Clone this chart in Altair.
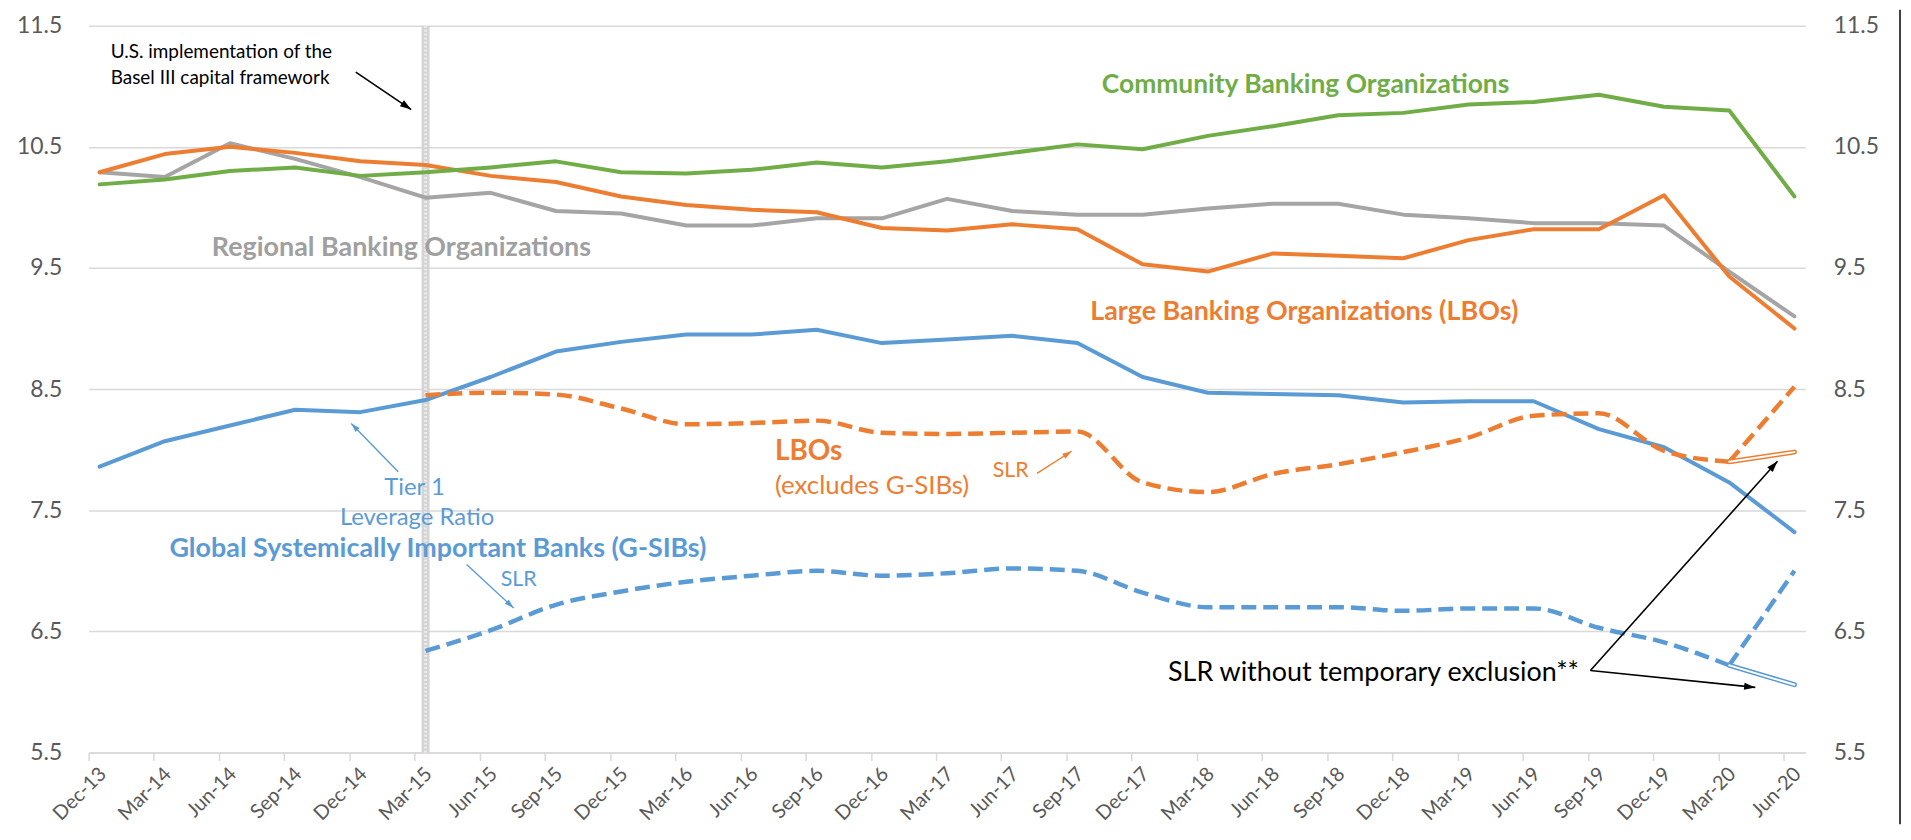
import json
import math
import altair as alt
import pandas as pd

# ---------------- data ----------------
quarters = ["Dec-13", "Mar-14", "Jun-14", "Sep-14", "Dec-14", "Mar-15", "Jun-15", "Sep-15",
            "Dec-15", "Mar-16", "Jun-16", "Sep-16", "Dec-16", "Mar-17", "Jun-17", "Sep-17",
            "Dec-17", "Mar-18", "Jun-18", "Sep-18", "Dec-18", "Mar-19", "Jun-19", "Sep-19",
            "Dec-19", "Mar-20", "Jun-20"]

community = [10.19, 10.23, 10.30, 10.33, 10.26, 10.29, 10.33, 10.38, 10.29, 10.28, 10.31, 10.37,
             10.33, 10.38, 10.45, 10.52, 10.48, 10.59, 10.67, 10.76, 10.78, 10.85, 10.87, 10.93,
             10.83, 10.80, 10.09]
regional = [10.29, 10.25, 10.53, 10.40, 10.25, 10.08, 10.12, 9.97, 9.95, 9.85, 9.85, 9.91,
            9.91, 10.07, 9.97, 9.94, 9.94, 9.99, 10.03, 10.03, 9.94, 9.91, 9.87, 9.87,
            9.85, 9.47, 9.10]
large = [10.29, 10.44, 10.50, 10.45, 10.38, 10.35, 10.26, 10.21, 10.09, 10.02, 9.98, 9.96,
         9.83, 9.81, 9.86, 9.82, 9.53, 9.47, 9.62, 9.60, 9.58, 9.73, 9.82, 9.82,
         10.10, 9.43, 9.00]
gsib_tier1 = [7.86, 8.07, 8.20, 8.33, 8.31, 8.41, 8.60, 8.81, 8.89, 8.95, 8.95, 8.99,
              8.88, 8.91, 8.94, 8.88, 8.60, 8.47, 8.46, 8.45, 8.39, 8.40, 8.40, 8.17,
              8.02, 7.73, 7.32]

slr_start = "Mar-15"
lbo_slr = [8.45, 8.47, 8.455, 8.34, 8.21, 8.22, 8.24, 8.14, 8.13, 8.14, 8.15, 7.73,
           7.65, 7.80, 7.88, 7.98, 8.10, 8.28, 8.30, 7.99, 7.90, 8.52]
gsib_slr = [6.34, 6.51, 6.72, 6.83, 6.91, 6.96, 7.00, 6.96, 6.98, 7.02, 7.00, 6.82,
            6.70, 6.70, 6.70, 6.67, 6.69, 6.69, 6.53, 6.41, 6.22, 7.00]

no_excl_quarters = ["Mar-20", "Jun-20"]
lbo_slr_no_excl = [7.90, 7.98]
gsib_slr_no_excl = [6.22, 6.06]

y_ticks = [5.5, 6.5, 7.5, 8.5, 9.5, 10.5, 11.5]
basel_quarter = "Mar-15"

# colours
GREEN, GREY, ORANGE, BLUE = "#70ad47", "#a5a5a5", "#ed7d31", "#5b9bd5"
AXIS_TXT, GRID = "#595959", "#d9d9d9"
FONT = "Lato"

# ---------------- geometry ----------------
W, H = 1724, 730
X_PAD = 11
n = len(quarters)
px_x = (W - 2 * X_PAD) / (n - 1)
px_y = H / (max(y_ticks) - min(y_ticks))

rows = []


def add(series, qs, vals):
    for q, v in zip(qs, vals):
        rows.append({"series": series, "quarter": q, "idx": quarters.index(q), "value": v})


add("Community", quarters, community)
add("Regional", quarters, regional)
add("Large", quarters, large)
add("GSIB T1", quarters, gsib_tier1)
slr_qs = quarters[quarters.index(slr_start):]
add("LBO SLR", slr_qs[:-1], lbo_slr[:-1])
add("LBO SLR tail", slr_qs[-2:], lbo_slr[-2:])
add("GSIB SLR", slr_qs[:-1], gsib_slr[:-1])
add("GSIB SLR tail", slr_qs[-2:], gsib_slr[-2:])
add("LBO no excl", no_excl_quarters, lbo_slr_no_excl)
add("GSIB no excl", no_excl_quarters, gsib_slr_no_excl)
df = pd.DataFrame(rows)

x_scale = alt.Scale(domain=[0, n - 1], padding=X_PAD, nice=False, zero=False)
y_scale = alt.Scale(domain=[min(y_ticks), max(y_ticks)], nice=False, zero=False)

# identical x axis given to every layer so the shared axis merges cleanly
x_axis = alt.Axis(
    values=list(range(n)), labelExpr=f"{json.dumps(quarters)}[datum.value]",
    labelAngle=315, labelAlign="right", labelBaseline="middle",
    labelFont=FONT, labelFontSize=20, labelColor=AXIS_TXT,
    tickColor=GRID, tickWidth=1.5, tickSize=8, tickOffset=-X_PAD, labelOffset=14,
    labelPadding=10, domainColor=GRID, domainWidth=1.5, grid=False, title=None,
    labelFlush=False, labelOverlap=False, labelBound=False, orient="bottom")
y_axis_left = alt.Axis(
    values=y_ticks, format=".1f", orient="left", labelFont=FONT, labelFontSize=23,
    labelColor=AXIS_TXT, labelPadding=27, ticks=False, tickSize=0, domain=False,
    grid=True, gridColor=GRID, gridWidth=1.5, title=None)
y_axis_right = alt.Axis(
    values=y_ticks, format=".1f", orient="right", labelFont=FONT, labelFontSize=23,
    labelColor=AXIS_TXT, labelPadding=28, ticks=False, tickSize=0, domain=False,
    grid=False, title=None, labelAlign="left")


def X(field):
    return alt.X(field, scale=x_scale, axis=x_axis)


def Y(field, axis=None):
    return alt.Y(field, scale=y_scale, axis=axis)


def line(series, color, width=4.0, dash=None, interp="linear", yaxis=None):
    kw = dict(color=color, strokeWidth=width, interpolate=interp)
    if dash:
        kw["strokeDash"] = dash
        kw["strokeCap"] = "butt"
    else:
        kw["strokeCap"] = "round"
        kw["strokeJoin"] = "round"
    return alt.Chart(df).transform_filter(alt.datum.series == series).mark_line(**kw).encode(
        x=X("idx:Q"), y=Y("value:Q", yaxis), order="idx:Q")


# Basel III band
band_df = pd.DataFrame({"idx": [quarters.index(basel_quarter)],
                        "top": [max(y_ticks)], "bottom": [min(y_ticks)]})
band = alt.Chart(band_df).mark_rule(color="#d4d4d4", strokeWidth=8).encode(
    x=X("idx:Q"), y=Y("top:Q", y_axis_left), y2="bottom:Q")
band_tex = alt.Chart(band_df).mark_rule(color="#ececec", strokeWidth=3, strokeDash=[2, 2]).encode(
    x=X("idx:Q"), y=Y("top:Q"), y2="bottom:Q")

DASH = [15, 7]
layers = [
    band, band_tex,
    line("Regional", GREY, yaxis=y_axis_right),
    line("Large", ORANGE),
    line("Community", GREEN),
    line("GSIB T1", BLUE),
    line("LBO SLR", ORANGE, 4.5, DASH, "monotone"),
    line("LBO SLR tail", ORANGE, 4.5, DASH),
    line("GSIB SLR", BLUE, 4.5, DASH, "monotone"),
    line("GSIB SLR tail", BLUE, 4.5, DASH),
    line("LBO no excl", ORANGE, 5),
    line("LBO no excl", "#ffffff", 2),
    line("GSIB no excl", BLUE, 5),
    line("GSIB no excl", "#ffffff", 2),
]

# ---------------- annotations ----------------
texts = [
    ("U.S. implementation of the", 0.17, 11.28, "#000000", 19, "normal", "left"),
    ("Basel III capital framework", 0.17, 11.07, "#000000", 19, "normal", "left"),
    ("Community Banking Organizations", 18.5, 11.01, GREEN, 26.5, "bold", "center"),
    ("Regional Banking Organizations", 4.63, 9.666, "#a0a0a0", 27, "bold", "center"),
    ("Large Banking Organizations (LBOs)", 18.48, 9.136, ORANGE, 27, "bold", "center"),
    ("LBOs", 10.36, 7.98, ORANGE, 28, "bold", "left"),
    ("(excludes G-SIBs)", 10.36, 7.70, ORANGE, 26, "normal", "left"),
    ("SLR", 13.70, 7.82, ORANGE, 21.5, "normal", "left"),
    ("Tier 1", 4.83, 7.685, BLUE, 24, "normal", "center"),
    ("Leverage Ratio", 4.87, 7.44, BLUE, 24, "normal", "center"),
    ("Global Systemically Important Banks (G-SIBs)", 5.19, 7.18, BLUE, 27, "bold", "center"),
    ("SLR", 6.43, 6.927, BLUE, 21.5, "normal", "center"),
    ("SLR without temporary exclusion**", 16.39, 6.16, "#000000", 27, "normal", "left"),
]
for t, x, y, c, fs, fw, al in texts:
    layers.append(
        alt.Chart(pd.DataFrame({"x": [x], "y": [y], "t": [t]})).mark_text(
            font=FONT, fontSize=fs, fontWeight=fw, color=c, align=al, baseline="middle").encode(
            x=X("x:Q"), y=Y("y:Q"), text="t:N"))

arrows = [
    (3.93, 11.117, 4.78, 10.807, "#000000", 1.6, 300),
    (14.38, 7.805, 14.91, 7.987, ORANGE, 1.4, 200),
    (4.58, 7.818, 3.86, 8.217, BLUE, 1.4, 200),
    (5.63, 7.053, 6.35, 6.694, BLUE, 1.4, 200),
    (22.87, 6.177, 25.74, 7.905, "#000000", 1.6, 300),
    (22.87, 6.177, 25.40, 6.038, "#000000", 1.6, 300),
]
HEAD = "M0,0L0.42,1.3L-0.42,1.3Z"
for x1, y1, x2, y2, c, sw, hs in arrows:
    dx = (x2 - x1) * px_x
    dy = -(y2 - y1) * px_y
    ang = (math.degrees(math.atan2(dx, -dy)) + 360) % 360
    adf = pd.DataFrame({"x1": [x1], "y1": [y1], "x2": [x2], "y2": [y2], "a": [ang]})
    layers.append(alt.Chart(adf).mark_rule(color=c, strokeWidth=sw).encode(
        x=X("x1:Q"), x2="x2:Q", y=Y("y1:Q"), y2="y2:Q"))
    layers.append(alt.Chart(adf).mark_point(shape=HEAD, filled=True, color=c, opacity=1,
                                            size=hs, strokeWidth=0).encode(
        x=X("x2:Q"), y=Y("y2:Q"), angle=alt.Angle("a:Q", scale=None)))

# right frame edge
layers.append(alt.Chart(pd.DataFrame({"k": [0]})).mark_rule(color="#404040", strokeWidth=2).encode(
    x=alt.value(W + 95), y=alt.value(-16), y2=alt.value(H + 72)))

chart = alt.layer(*layers).resolve_axis(y="independent").properties(
    width=W, height=H,
    autosize=alt.AutoSizeParams(type="none"),
    padding={"left": 81, "top": 16, "right": 98, "bottom": 72},
    background="#ffffff",
).configure_view(stroke=None)

chart.save("out.html", embed_options={"renderer": "svg", "actions": False})
